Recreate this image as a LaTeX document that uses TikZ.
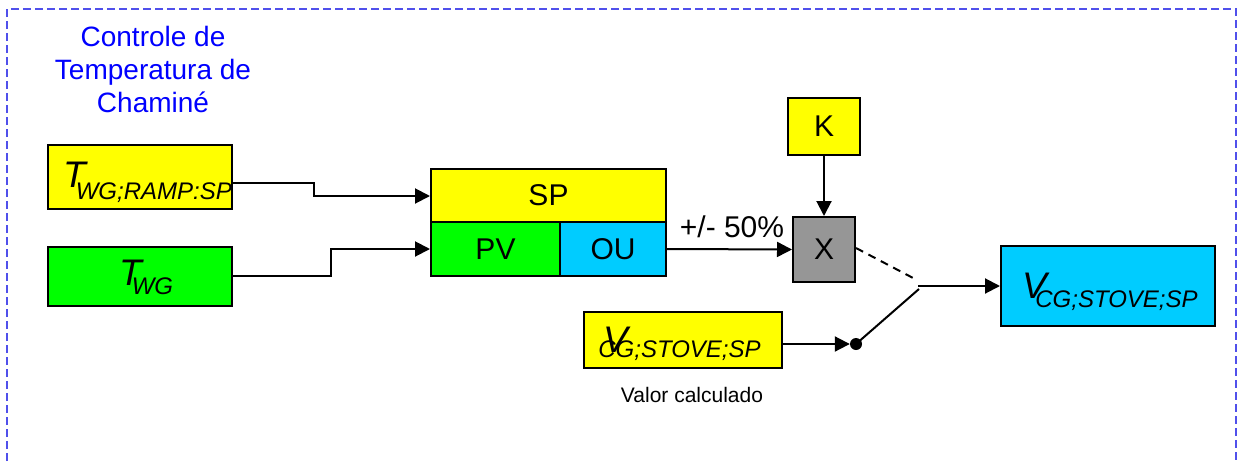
\documentclass[tikz,border=0pt]{standalone}
\usepackage{fontspec}
\setmainfont{Liberation Sans}
\usetikzlibrary{arrows.meta}
\newcommand{\fsz}[1]{\fontsize{#1}{#1}\selectfont}
\newcommand{\symsub}[4]{{\itshape\fsz{37}#1\kern#2pt\raisebox{-#3pt}{\fsz{24}#4}}}
\definecolor{bordc}{RGB}{80,80,235}
\definecolor{ylw}{RGB}{255,255,0}
\definecolor{grn}{RGB}{0,255,0}
\definecolor{cyn}{RGB}{0,204,255}
\definecolor{gry}{RGB}{150,150,150}
\tikzset{
  blk/.style={draw=black, line width=2pt, inner sep=0pt},
  lbl/.style={font=\fsz{30}},
  arr/.style={line width=2pt, -{Triangle[length=15pt,width=15pt]}},
  wire/.style={line width=2pt},
  brd/.style={draw=bordc, line width=1.4pt, dash pattern=on 8pt off 4pt},
}
\begin{document}
\begin{tikzpicture}[x=1pt,y=-1pt]
\useasboundingbox (0,0) rectangle (1237,461);
\draw[brd] (7,461) -- (7,9) -- (1236,9) -- (1236,461);

\node[text=blue, align=center, font=\fsz{28}, inner sep=0pt] (title) at (153,69)
  {Controle de\\[5pt]Temperatura de\\[5pt]Chaminé};

\node[blk, fill=ylw, minimum width=184pt, minimum height=64pt] (ramp) at (140,177) {};
\node[anchor=base west, inner sep=0pt] (rampt) at (63,187) {\symsub{T}{-10}{12}{WG;RAMP:SP}};

\node[blk, fill=grn, minimum width=184pt, minimum height=59pt] (twg) at (140,276.5) {};
\node[anchor=base west, inner sep=0pt] (twgt) at (119,285) {\symsub{T}{-10}{9}{WG}};

\node[blk, fill=ylw, minimum width=235pt, minimum height=53pt, lbl] (sp) at (548.5,195.5) {SP};
\node[blk, fill=grn, minimum width=129pt, minimum height=54pt, lbl] (pv) at (495.5,249) {PV};
\node[blk, fill=cyn, minimum width=106pt, minimum height=54pt, lbl] (ou) at (613,249) {OU};

\node[blk, fill=ylw, minimum width=72pt, minimum height=57pt, lbl] (k) at (824,126.5) {K};
\node[blk, fill=gry, minimum width=62pt, minimum height=65pt, lbl] (x) at (824,249.5) {X};

\node[blk, fill=ylw, minimum width=198pt, minimum height=56pt] (vin) at (683,340) {};
\node[anchor=base west, inner sep=0pt] (vint) at (603,352) {\symsub{V}{-29.5}{5}{CG;STOVE;SP}};

\node[blk, fill=cyn, minimum width=214pt, minimum height=80pt] (vout) at (1108,286) {};
\node[anchor=base west, inner sep=0pt] (voutt) at (1022,298) {\symsub{V}{-11.5}{9}{CG;STOVE;SP}};

\node[anchor=base, font=\fsz{21}, inner sep=0pt] (valor) at (692,402) {Valor calculado};
\node[anchor=base, font=\fsz{30}, inner sep=0pt] (pct) at (732,237) {+/- 50\%};

\node[circle, fill=black, inner sep=0pt, minimum size=12pt] (dot) at (856,344) {};
\coordinate (swa) at (915,279);
\coordinate (swb) at (919,289);
\coordinate (swo) at (918,286);

\draw[arr] (ramp.east |- 0,183) -- (314,183) -- (314,196) -- (sp.west |- 0,196);
\draw[arr] (twg.east |- 0,276) -- (331,276) -- (331,249) -- (pv.west |- 0,249);
\draw[arr] (ou.east) -- (x.west);
\draw[arr] (k.south) -- (x.north);
\draw[wire, dash pattern=on 8pt off 6pt] (x.east |- 0,248) -- (swa);
\draw[wire] (dot.center) -- (swb);
\draw[arr] (swo) -- (vout.west);
\draw[arr] (vin.east |- 0,344) -- (dot.west);
\end{tikzpicture}
\end{document}
